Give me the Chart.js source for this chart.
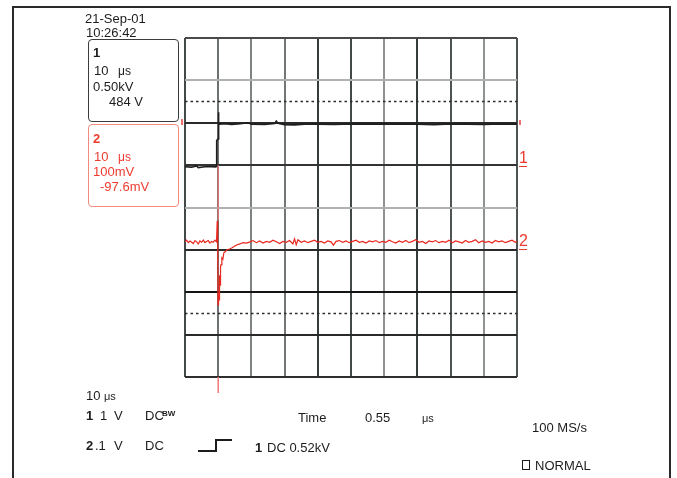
<!DOCTYPE html>
<html>
<head>
<meta charset="utf-8">
<script src="https://cdn.jsdelivr.net/npm/chart.js@4.4.1/dist/chart.umd.min.js"></script>
<style>
  html, body { margin: 0; padding: 0; background: #fff; }
  #wrap { position: relative; width: 677px; height: 478px; overflow: hidden; background: #fff;
          font-family: "Liberation Sans", Arial, sans-serif; color: #1c1c1c; }
  #frame { position: absolute; left: 12px; top: 6px; width: 655px; height: 520px;
           border: 2px solid #2a2a2a; border-bottom: none; }
  canvas { position: absolute; left: 0; top: 0; }
  .t { position: absolute; font-size: 13px; line-height: 13px; white-space: nowrap; }
  .red { color: #ee3b30; }
  .b { font-weight: bold; }
  .box { position: absolute; border-radius: 4px; }
  .ln { position: absolute; background: #1c1c1c; }
  .rm { position: absolute; background: #f07070; }
</style>
</head>
<body>
<div id="wrap">
  <div id="frame"></div>
  <canvas id="c" width="677" height="478"></canvas>

  <div class="t" style="left:85px; top:12px;">21-Sep-01</div>
  <div class="t" style="left:86px; top:26px;">10:26:42</div>

  <div class="box" style="left:88px; top:39px; width:89px; height:81px; border:1.5px solid #3c3c3c;"></div>
  <div class="t b" style="left:93px; top:46px;">1</div>
  <div class="t" style="left:94px; top:64px;">10</div>
  <div class="t" style="left:118px; top:65px; font-size:12px;">μs</div>
  <div class="t" style="left:93px; top:80px;">0.50kV</div>
  <div class="t" style="left:109px; top:95px;">484 V</div>

  <div class="box" style="left:88px; top:124px; width:89px; height:81px; border:1.5px solid #f28a7e;"></div>
  <div class="t b red" style="left:93px; top:132px;">2</div>
  <div class="t red" style="left:94px; top:150px;">10</div>
  <div class="t red" style="left:118px; top:151px; font-size:12px;">μs</div>
  <div class="t red" style="left:93px; top:165px;">100mV</div>
  <div class="t red" style="left:100px; top:180px;">-97.6mV</div>

  <div class="rm" style="left:181px; top:119px; width:2px; height:6px;"></div>
  <div class="rm" style="left:519px; top:120px; width:2px; height:5px;"></div>

  <div class="t red" style="left:519px; top:150px; font-size:16px; line-height:16px; border-bottom:1.5px solid #ee3b30; width:8px;">1</div>
  <div class="t red" style="left:519px; top:233px; font-size:16px; line-height:16px; border-bottom:1.5px solid #ee3b30; width:8px;">2</div>

  <div class="t" style="left:86px; top:389px;">10</div>
  <div class="t" style="left:104px; top:390px; font-size:11px;">μs</div>

  <div class="t b" style="left:86px; top:409px;">1</div>
  <div class="t" style="left:100px; top:409px;">1</div>
  <div class="t" style="left:114px; top:409px;">V</div>
  <div class="t" style="left:145px; top:409px;">DC</div>
  <div class="t b" style="left:162px; top:410px; font-size:8px; line-height:8px;">BW</div>

  <div class="t" style="left:298px; top:411px;">Time</div>
  <div class="t" style="left:365px; top:411px;">0.55</div>
  <div class="t" style="left:422px; top:412px; font-size:11px;">μs</div>
  <div class="t" style="left:532px; top:421px;">100 MS/s</div>

  <div class="t b" style="left:86px; top:439px;">2</div>
  <div class="t" style="left:95px; top:439px;">.1</div>
  <div class="t" style="left:114px; top:439px;">V</div>
  <div class="t" style="left:145px; top:439px;">DC</div>

  <div class="ln" style="left:198px; top:450px; width:18px; height:1.5px;"></div>
  <div class="ln" style="left:215px; top:439px; width:1.5px; height:12.5px;"></div>
  <div class="ln" style="left:215px; top:439px; width:17px; height:1.5px;"></div>

  <div class="t b" style="left:255px; top:441px;">1</div>
  <div class="t" style="left:267px; top:441px;">DC 0.52kV</div>

  <div style="position:absolute; left:522px; top:460px; width:6px; height:8px; border:1.5px solid #1c1c1c;"></div>
  <div class="t" style="left:535px; top:459px;">NORMAL</div>
</div>

<script>
// ---- data ----
// horizontal axis: time in microseconds (10 us/div, 10 divisions)
const timeMin = 0, timeMax = 100, timeStep = 10;
// vertical grid in divisions (8 divisions)
const divMin = -4, divMax = 4;
// channel 1 (kV, 0.5 kV/div, ground at +1 div)
const ch1Range = [-2.5, 1.5];
const ch1Time = [0, 2, 3.5, 4, 6, 8, 9.3, 9.5, 9.55, 9.95, 10.05, 10.2, 10.5, 12, 14, 16, 19, 20, 24, 27, 27.5, 28, 30, 33, 36, 40, 45, 50, 55, 60, 65, 70, 75, 80, 85, 90, 95, 100];
const ch1KV   = [-0.02, -0.024, -0.01, -0.03, -0.02, -0.018, -0.02, -0.01, 0.29, 0.31, 0.625, 0.5, 0.484, 0.49, 0.48, 0.486, 0.5, 0.484, 0.48, 0.49, 0.52, 0.495, 0.478, 0.475, 0.482, 0.484, 0.48, 0.486, 0.484, 0.482, 0.487, 0.483, 0.478, 0.486, 0.484, 0.48, 0.486, 0.484];
// channel 2 (mV, 100 mV/div, ground at -1 div)
const ch2Range = [-300, 500];
const ch2Time = [0, 0.5, 1, 1.5, 2, 2.5, 3, 3.5, 4, 4.5, 5, 5.5, 6, 6.5, 7, 7.5, 8, 8.5, 9, 9.5, 9.7, 9.85, 9.95, 10.1, 10.25, 10.4, 10.55, 10.7, 10.85, 11.1, 11.4, 11.7, 12.2, 12.65, 13.4, 14.2, 15, 15.7, 16.5, 17.5, 18.5, 19.6,
  20.5, 21.5, 22.5, 23.5, 24.5, 25.5, 26.5, 27.5, 28.5, 29.5, 30.5, 31.5, 32.5, 33, 33.5, 34, 35, 36, 37, 38, 39, 40, 41, 42, 43, 44, 44.7, 45.5, 46.5, 47.5, 48.5, 49.5,
  50.5, 51.5, 52.5, 53.5, 54.5, 55.5, 56.5, 57.5, 58.5, 59.5, 60.5, 61.5, 62.5, 63.5, 64.5, 65.5, 66.5, 67.5, 68.5, 69.5, 70.5, 71.5, 72.5, 73.5, 74.5,
  75.5, 76.5, 77.5, 78.5, 79.5, 80.5, 81.5, 82.5, 83.5, 84.5, 85.5, 86.5, 87.5, 88.5, 89.5, 90.5, 91.5, 92.5, 93.5, 94.5, 95.5, 96.5, 97.5, 98.5, 99.5, 100];
const ch2MV = [19, 23, 17, 21, 18, 15, 22, 19, 14, 21, 18, 23, 17, 20, 22, 16, 20, 18, 23, 19, 68, 20, -130, -100, -118, -60, -83, -40, -35, -19, -22, -7, -4, 0, 2, 5, 9, 12, 14, 17, 16, 19,
  22, 17, 21, 16, 20, 18, 23, 19, 15, 20, 18, 22, 14, 26, 12, 24, 18, 21, 17, 20, 23, 18, 20, 16, 21, 19, 11, 20, 22, 18, 21, 17,
  20, 23, 18, 20, 16, 21, 19, 22, 17, 20, 18, 23, 19, 16, 21, 18, 22, 17, 20, 24, 18, 20, 15, 21, 19,
  22, 17, 20, 18, 23, 17, 21, 19, 16, 22, 18, 20, 24, 17, 21, 18, 20, 16, 22, 19, 21, 17, 20, 23, 18, 20];
// reference (dashed) levels in divisions
const dashLevels = [2.5, -2.5];
// trigger position (us) and marker extent in divisions
const triggerTime = 10;
const triggerFaint = [1.0, -0.3];
const triggerTick = [-4.0, -4.38];

// ---- grid styling ----
const vLineColors = { 0: '#434949', 10: '#6e7272', 20: '#7e8282', 30: '#727676', 40: '#363c3c', 50: '#434949',
                      60: '#8e9292', 70: '#363c3c', 80: '#4e5454', 90: '#8e9292', 100: '#4e5353' };
const hLineColors = { '-4': '#2e2e2e', '-3': '#2a2a2a', '-2': '#151515', '-1': '#2a2a2a', '0': '#b0b0b0',
                      '1': '#343434', '2': '#2a2a2a', '3': '#b0b0b0', '4': '#4a4a4a' };

const pts = (xs, ys) => xs.map((x, i) => ({ x, y: ys[i] }));

const datasets = [];
dashLevels.forEach(l => datasets.push({
  data: [{ x: timeMin, y: l }, { x: timeMax, y: l }], yAxisID: 'y',
  borderColor: '#2a2a2a', borderWidth: 1.6, borderDash: [2.5, 3], pointRadius: 0
}));
datasets.push({
  data: [{ x: triggerTime, y: triggerFaint[0] }, { x: triggerTime, y: triggerFaint[1] }], yAxisID: 'y',
  borderColor: 'rgba(240,120,120,0.55)', borderWidth: 1, pointRadius: 0
});
datasets.push({
  data: [{ x: triggerTime, y: triggerTick[0] }, { x: triggerTime, y: triggerTick[1] }], yAxisID: 'y',
  borderColor: '#f07a7a', borderWidth: 1.5, pointRadius: 0, clip: false
});
datasets.push({
  data: pts(ch2Time, ch2MV), yAxisID: 'y2',
  borderColor: '#e8281e', borderWidth: 1.2, pointRadius: 0, tension: 0
});
datasets.push({
  data: pts(ch1Time, ch1KV), yAxisID: 'y1',
  borderColor: '#1e1e1e', borderWidth: 1.6, pointRadius: 0, tension: 0
});

new Chart(document.getElementById('c'), {
  type: 'line',
  data: { datasets },
  options: {
    responsive: false, devicePixelRatio: 1, animation: false, events: [],
    layout: { padding: { left: 185, top: 38, right: 160, bottom: 101 } },
    plugins: { legend: { display: false }, tooltip: { enabled: false } },
    scales: {
      x: {
        type: 'linear', min: timeMin, max: timeMax,
        ticks: { display: false, stepSize: timeStep },
        grid: { color: c => vLineColors[c.tick.value] || '#555', lineWidth: 2, drawTicks: false },
        border: { display: false }
      },
      y: {
        type: 'linear', min: divMin, max: divMax,
        ticks: { display: false, stepSize: 1 },
        grid: { color: c => hLineColors[String(c.tick.value)] || '#333', lineWidth: 2, drawTicks: false },
        border: { display: false }
      },
      y1: { display: false, min: ch1Range[0], max: ch1Range[1] },
      y2: { display: false, min: ch2Range[0], max: ch2Range[1] }
    }
  }
});
</script>
</body>
</html>
